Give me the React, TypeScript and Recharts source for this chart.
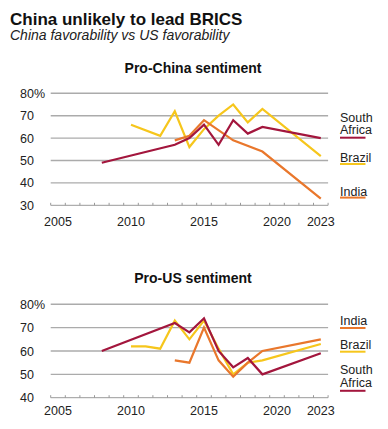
import React from 'react';
import { LineChart, Line, XAxis, YAxis, ReferenceLine } from 'recharts';

const FONT = '"Liberation Sans", Arial, Helvetica, sans-serif';

const COLOR_SA = '#a3163d';
const COLOR_BRAZIL = '#f6c61c';
const COLOR_INDIA = '#e9772c';
const TEXT = '#222222';

// ---- Pro-China sentiment (%) ----
const saChinaYears = [2008, 2013, 2014, 2015, 2016, 2017, 2018, 2019, 2023];
const saChinaValues = [49, 57, 60, 66, 57, 68, 62, 65, 60];
const brazilChinaYears = [2010, 2012, 2013, 2014, 2015, 2016, 2017, 2018, 2019, 2023];
const brazilChinaValues = [66, 61, 72, 56, 64, 70, 75, 67, 73, 52];
const indiaChinaYears = [2013, 2014, 2015, 2017, 2019, 2023];
const indiaChinaValues = [59, 61, 68, 59, 54, 33];

// ---- Pro-US sentiment (%) ----
const saUSYears = [2008, 2013, 2014, 2015, 2016, 2017, 2018, 2019, 2023];
const saUSValues = [60, 72, 68, 74, 60, 53, 57, 50, 59];
const brazilUSYears = [2010, 2011, 2012, 2013, 2014, 2015, 2016, 2017, 2018, 2019, 2023];
const brazilUSValues = [62, 62, 61, 73, 65, 73, 61, 50, 55, 56, 63];
const indiaUSYears = [2013, 2014, 2015, 2016, 2017, 2018, 2019, 2023];
const indiaUSValues = [56, 55, 70, 56, 49, 55, 60, 65];

// ---- Axes ----
const xDomain = [2004.5, 2023.5];
const xMinorTicks = [
  2004.5, 2005.5, 2006.5, 2007.5, 2008.5, 2009.5, 2010.5, 2011.5, 2012.5, 2013.5,
  2014.5, 2015.5, 2016.5, 2017.5, 2018.5, 2019.5, 2020.5, 2021.5, 2022.5, 2023.5,
];
const xLabelYears = [2005, 2010, 2015, 2020, 2023];
const chinaYTicks = [30, 40, 50, 60, 70, 80];
const chinaGrid = [40, 50, 60, 70, 80];
const usYTicks = [40, 50, 60, 70, 80];
const usGrid = [50, 60, 70, 80];

const toSeries = (years: number[], values: number[]) =>
  years.map((year, i) => ({ year, value: values[i] }));

const xTicks = [...xMinorTicks, ...xLabelYears].sort((a, b) => a - b);

function makeXTick(labelDy: number) {
  return (props: any) => {
    const { x, y, payload } = props;
    const v = Number(payload.value);
    if (Number.isInteger(v)) {
      return (
        <text x={x} y={y + labelDy} textAnchor="middle" fontSize={12.5} fontFamily={FONT} fill={TEXT}>
          {v}
        </text>
      );
    }
    return <line x1={x} x2={x} y1={y} y2={y - 2.5} stroke="#999" strokeWidth={1} />;
  };
}

const YTick = (props: any) => {
  const { y, payload } = props;
  const v = Number(payload.value);
  return (
    <text x={20} y={y} dy="0.36em" textAnchor="start" fontSize={12.5} fontFamily={FONT} fill={TEXT}>
      {v === 80 ? '80%' : v}
    </text>
  );
};

type SeriesDef = { name: string; color: string; data: { year: number; value: number }[] };

function Panel(props: {
  top: number;
  height: number;
  margin: { top: number; right: number; bottom: number; left: number };
  yDomain: number[];
  yTicks: number[];
  grid: number[];
  series: SeriesDef[];
  labelDy: number;
}) {
  const { top, height, margin, yDomain, yTicks, grid, series, labelDy } = props;
  return (
    <div style={{ position: 'absolute', left: 0, top }}>
      <LineChart width={388} height={height} margin={margin}>
        <XAxis
          type="number"
          dataKey="year"
          domain={xDomain}
          ticks={xTicks}
          interval={0}
          allowDataOverflow
          tickSize={0}
          tickMargin={0}
          height={25}
          stroke="#9a9a9a"
          tickLine={false}
          tick={makeXTick(labelDy)}
        />
        <YAxis
          type="number"
          domain={yDomain}
          ticks={yTicks}
          interval={0}
          width={50.7}
          axisLine={false}
          tickLine={false}
          tick={YTick}
        />
        {grid.map((v) => (
          <ReferenceLine key={v} y={v} stroke="#ababab" strokeWidth={1.4} />
        ))}
        {series.map((s) => (
          <Line
            key={s.name}
            data={s.data}
            dataKey="value"
            name={s.name}
            type="linear"
            stroke={s.color}
            strokeWidth={2.2}
            dot={false}
            activeDot={false}
            isAnimationActive={false}
          />
        ))}
      </LineChart>
    </div>
  );
}

const chinaSeries: SeriesDef[] = [
  { name: 'Brazil', color: COLOR_BRAZIL, data: toSeries(brazilChinaYears, brazilChinaValues) },
  { name: 'India', color: COLOR_INDIA, data: toSeries(indiaChinaYears, indiaChinaValues) },
  { name: 'South Africa', color: COLOR_SA, data: toSeries(saChinaYears, saChinaValues) },
];
const usSeries: SeriesDef[] = [
  { name: 'Brazil', color: COLOR_BRAZIL, data: toSeries(brazilUSYears, brazilUSValues) },
  { name: 'India', color: COLOR_INDIA, data: toSeries(indiaUSYears, indiaUSValues) },
  { name: 'South Africa', color: COLOR_SA, data: toSeries(saUSYears, saUSValues) },
];

function LegendLabel({ lines, baseline, underline, color }: { lines: string[]; baseline: number; underline: number; color: string }) {
  return (
    <g>
      {lines.map((t, i) => (
        <text key={t} x={340} y={baseline + i * 12.5} fontSize={12.5} fontFamily={FONT} fill={TEXT}>
          {t}
        </text>
      ))}
      <line x1={340} x2={365.5} y1={underline} y2={underline} stroke={color} strokeWidth={2} />
    </g>
  );
}

export default function App() {
  return (
    <div style={{ position: 'absolute', left: 0, top: 0, width: 388, height: 429, background: '#fff', overflow: 'hidden' }}>
      <Panel
        top={0}
        height={235}
        margin={{ top: 93.3, right: 59.9, bottom: 4.7, left: 0 }}
        yDomain={[30, 80]}
        yTicks={chinaYTicks}
        grid={chinaGrid}
        series={chinaSeries}
        labelDy={20.7}
      />
      <Panel
        top={240}
        height={189}
        margin={{ top: 64.3, right: 59.9, bottom: 6.3, left: 0 }}
        yDomain={[40, 80]}
        yTicks={usYTicks}
        grid={usGrid}
        series={usSeries}
        labelDy={17.6}
      />
      <svg width={388} height={429} style={{ position: 'absolute', left: 0, top: 0, pointerEvents: 'none' }}>
        <text x={10} y={24.5} fontSize={17} fontWeight="bold" fontFamily={FONT} fill="#111">
          China unlikely to lead BRICS
        </text>
        <text x={10} y={40} fontSize={14} fontStyle="italic" fontFamily={FONT} fill={TEXT}>
          China favorability vs US favorability
        </text>
        <text x={193} y={73.3} fontSize={14} fontWeight="bold" fontFamily={FONT} fill="#111" textAnchor="middle">
          Pro-China sentiment
        </text>
        <text x={193} y={283} fontSize={14} fontWeight="bold" fontFamily={FONT} fill="#111" textAnchor="middle">
          Pro-US sentiment
        </text>
        <LegendLabel lines={['South', 'Africa']} baseline={121.6} underline={137.7} color={COLOR_SA} />
        <LegendLabel lines={['Brazil']} baseline={161.7} underline={164} color={COLOR_BRAZIL} />
        <LegendLabel lines={['India']} baseline={196} underline={197.6} color={COLOR_INDIA} />
        <LegendLabel lines={['India']} baseline={325} underline={328} color={COLOR_INDIA} />
        <LegendLabel lines={['Brazil']} baseline={349} underline={351.7} color={COLOR_BRAZIL} />
        <LegendLabel lines={['South', 'Africa']} baseline={374.2} underline={390.8} color={COLOR_SA} />
      </svg>
    </div>
  );
}
